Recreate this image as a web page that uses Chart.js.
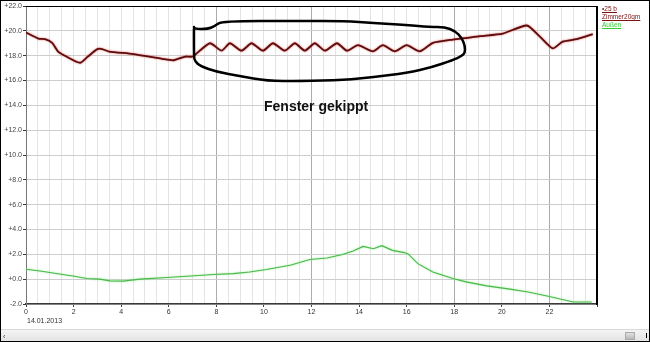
<!DOCTYPE html>
<html>
<head>
<meta charset="utf-8">
<script src="https://cdn.jsdelivr.net/npm/chart.js@4"></script>
<style>
  html, body { margin: 0; padding: 0; background: #fff; }
  #wrap { position: relative; width: 650px; height: 342px; overflow: hidden; font-family: "Liberation Sans", Arial, sans-serif; }
  #c { position: absolute; left: 0; top: 0; }
  #frame { position: absolute; left: 0; top: 0; width: 650px; height: 342px; box-sizing: border-box; border: 1px solid #000; pointer-events: none; z-index: 5; }
  #note { position: absolute; left: 264px; top: 98px; font-size: 14px; font-weight: bold; color: #111; white-space: nowrap; }
  #legend { position: absolute; left: 602px; top: 5px; font-size: 6.5px; line-height: 8px; }
  #legend div { text-decoration: underline; white-space: nowrap; }
  #date { position: absolute; left: 27px; top: 317px; font-size: 7px; color: #333; }
  #scroll { position: absolute; left: 0; top: 329px; width: 650px; height: 12px; background: linear-gradient(#f4f4f4, #e2e2e2); border-top: 1px solid #d8d8d8; }
  #thumb { position: absolute; left: 625px; top: 2px; width: 10px; height: 8px; background: linear-gradient(#e0e0e0, #b8b8b8); border: 1px solid #aaa; box-sizing: border-box; }
  #arrR { position: absolute; left: 646px; top: 3px; width: 1px; height: 5px; background: #000; }
  #arrL { position: absolute; left: 3px; top: 3px; font-size: 7px; line-height: 7px; color: #333; }
</style>
</head>
<body>
<div id="wrap">
  <canvas id="c" width="650" height="342"></canvas>
  <div id="note">Fenster gekippt</div>
  <div id="legend"></div>
  <div id="date">14.01.2013</div>
  <div id="scroll"><div id="arrL">‹</div><div id="thumb"></div><div id="arrR"></div></div>
  <div id="frame"></div>
</div>
<script>
// ---- data ----
const seriesNames = ['\u202225 b', 'Zimmer20qm', 'Au\u00dfen'];
const dateLabel = '14.01.2013';
const noteText = 'Fenster gekippt';

const zimmerHours = [0, 0.52, 0.8, 1.1, 1.35, 1.7, 2.27, 2.6, 3.0, 3.2, 3.5, 4.5, 5.76, 6.2, 6.7, 7.0,
  7.73, 8.22, 8.57, 9.06, 9.48, 9.96, 10.38, 10.88, 11.3, 11.72, 12.14, 12.56, 13.07, 13.49,
  13.95, 14.58, 15.0, 15.5, 16.0, 16.55, 17.1, 17.94, 19.08, 20.04, 21.05, 21.6, 22.14, 22.56, 23.15, 23.82];
const zimmerTemps = [19.87, 19.38, 19.33, 19.03, 18.33, 17.93, 17.43, 17.93, 18.53, 18.53, 18.33, 18.13, 17.73, 17.63, 17.93, 17.93,
  19.0, 18.4, 19.0, 18.4, 19.0, 18.4, 19.0, 18.4, 19.0, 18.4, 19.0, 18.4, 19.0, 18.4,
  18.85, 18.35, 18.85, 18.35, 18.85, 18.35, 19.03, 19.3, 19.57, 19.78, 20.43, 19.53, 18.58, 19.13, 19.33, 19.73];

const aussenHours = [0, 0.59, 1.13, 1.97, 2.56, 3.1, 3.53, 4.08, 4.79, 5.92, 6.76, 7.86, 8.7, 9.4, 10.1, 11.1,
  11.93, 12.65, 13.3, 13.75, 14.17, 14.6, 14.96, 15.4, 15.9, 16.05, 16.47, 17.1, 17.94, 18.5,
  19.37, 20.34, 21.05, 21.9, 23.0, 23.78];
const aussenTemps = [0.8, 0.66, 0.5, 0.26, 0.05, 0.0, -0.14, -0.16, 0.0, 0.13, 0.24, 0.38, 0.45, 0.58, 0.78, 1.12,
  1.58, 1.7, 1.98, 2.27, 2.64, 2.45, 2.7, 2.32, 2.14, 2.05, 1.25, 0.58, 0.05, -0.22,
  -0.54, -0.8, -1.02, -1.36, -1.84, -1.84];

const xTickLabels = ['0','2','4','6','8','10','12','14','16','18','20','22'];
const yTickValues = [-2, 0, 2, 4, 6, 8, 10, 12, 14, 16, 18, 20, 22];

// hand-drawn outline around the "window tilted" period (hours, degrees)
const outlineHours = [7.06, 7.06, 7.65, 7.94, 8.24, 11.51, 13.40, 14.58, 16.01, 16.97, 17.61, 18.03, 18.32, 18.45, 18.45,
  18.32, 17.94, 17.10, 16.01, 14.58, 13.40, 11.51, 10.13, 8.99, 8.03, 7.31, 7.10, 7.06, 7.06];
const outlineTemps = [20.31, 20.15, 20.15, 20.39, 20.79, 20.79, 20.79, 20.63, 20.47, 20.31, 20.31, 19.99, 19.42, 18.78, 18.22,
  17.97, 17.65, 17.09, 16.61, 16.28, 16.04, 15.96, 15.96, 16.36, 16.69, 17.17, 17.57, 17.89, 20.15];

// ---- build ----
const toXY = (xs, ys) => xs.map((x, i) => ({ x: x, y: ys[i] }));
const FONT = '"Liberation Sans", Arial, sans-serif';

document.getElementById('note').textContent = noteText;
document.getElementById('date').textContent = dateLabel;
const legendColors = ['#7a1010', '#7a1010', '#33cc33'];
const lg = document.getElementById('legend');
seriesNames.forEach((n, i) => {
  const d = document.createElement('div');
  d.textContent = n;
  d.style.color = legendColors[i];
  lg.appendChild(d);
});

const glowPlugin = {
  id: 'glow',
  beforeDatasetDraw(chart, args) {
    const ds = chart.data.datasets[args.index];
    chart.ctx.save();
    chart.ctx.shadowColor = ds.glow;
    chart.ctx.shadowBlur = 2;
  },
  afterDatasetDraw(chart) { chart.ctx.restore(); }
};

const framePlugin = {
  id: 'frame',
  afterDatasetsDraw(chart) {
    const { ctx, chartArea: a, scales } = chart;
    ctx.save();
    // hand-drawn outline (smoothed through midpoints)
    const pts = outlineHours.map((h, i) => [scales.x.getPixelForValue(h), scales.y.getPixelForValue(outlineTemps[i])]);
    ctx.beginPath();
    ctx.moveTo(pts[0][0], pts[0][1]);
    for (let i = 1; i < pts.length - 1; i++) {
      const mx = (pts[i][0] + pts[i + 1][0]) / 2, my = (pts[i][1] + pts[i + 1][1]) / 2;
      ctx.quadraticCurveTo(pts[i][0], pts[i][1], mx, my);
    }
    const last = pts[pts.length - 1];
    ctx.lineTo(last[0], last[1]);
    ctx.strokeStyle = '#000';
    ctx.lineWidth = 2.5;
    ctx.lineJoin = 'round';
    ctx.lineCap = 'round';
    ctx.stroke();
    // plot frame (top + right)
    ctx.lineCap = 'butt';
    ctx.lineWidth = 1.2;
    ctx.beginPath();
    ctx.moveTo(a.left, a.top + 0.5);
    ctx.lineTo(a.right, a.top + 0.5);
    ctx.stroke();
    ctx.lineWidth = 2;
    ctx.beginPath();
    ctx.moveTo(a.right, a.top);
    ctx.lineTo(a.right, a.bottom + 1);
    ctx.stroke();
    ctx.restore();
  }
};

new Chart(document.getElementById('c'), {
  type: 'line',
  data: {
    datasets: [
      { label: seriesNames[1], data: toXY(zimmerHours, zimmerTemps), borderColor: '#5e0c0c', glow: 'rgba(210,60,60,0.8)', borderWidth: 1.8, tension: 0.2 },
      { label: seriesNames[2], data: toXY(aussenHours, aussenTemps), borderColor: '#4cb84c', glow: 'rgba(130,235,130,0.9)', borderWidth: 1.1 }
    ]
  },
  options: {
    responsive: false,
    animation: false,
    devicePixelRatio: 1,
    layout: { padding: { top: 6, right: 53, left: 0, bottom: 0 } },
    elements: { point: { radius: 0 }, line: { tension: 0 } },
    plugins: { legend: { display: false }, tooltip: { enabled: false } },
    scales: {
      x: {
        type: 'linear', min: 0, max: 24,
        afterFit: s => { s.height = 38; },
        afterBuildTicks: s => {
          const t = [];
          for (let i = 0; i <= 48; i++) t.push({ value: i / 2 });
          s.ticks = t;
        },
        ticks: {
          autoSkip: false, maxRotation: 0, padding: 1,
          color: '#333', font: { family: FONT, size: 7 },
          callback: v => (v % 2 === 0 && xTickLabels.includes(String(v))) ? String(v) : ''
        },
        grid: {
          color: ctx => [8, 12, 18, 22].includes(ctx.tick && ctx.tick.value) ? '#ababab' : '#e4e4e4',
          lineWidth: 1,
          tickLength: 3,
          tickColor: ctx => (ctx.tick && ctx.tick.value % 2 === 0) ? '#444' : 'rgba(0,0,0,0)'
        },
        border: { display: true, color: '#3a3a3a', width: 1.5 }
      },
      y: {
        type: 'linear', min: -2, max: 22,
        afterFit: s => { s.width = 26; },
        afterBuildTicks: s => { s.ticks = yTickValues.map(v => ({ value: v })); },
        ticks: {
          padding: 1, color: '#444', font: { family: FONT, size: 7 },
          callback: v => (v >= 0 ? '+' : '') + Number(v).toFixed(1)
        },
        grid: { color: '#cdcdcd', lineWidth: 1, tickLength: 3, tickColor: '#333' },
        border: { display: true, color: '#777', width: 1 }
      }
    }
  },
  plugins: [glowPlugin, framePlugin]
});
</script>
</body>
</html>
